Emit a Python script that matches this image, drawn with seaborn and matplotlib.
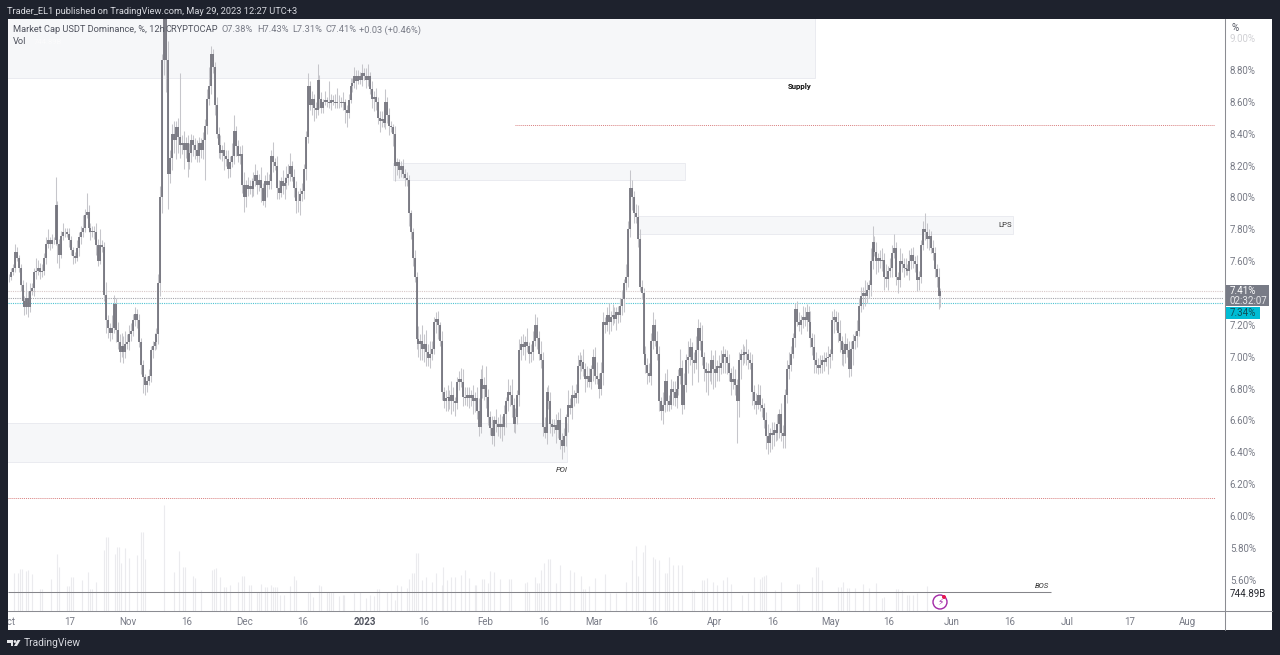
import numpy as np
import pandas as pd
import seaborn as sns
import matplotlib
matplotlib.use("Agg")
import matplotlib.pyplot as plt
from matplotlib.patches import Rectangle, Circle, Polygon

# ---------- data ----------
closes = [
 7.50,7.53,7.56,7.66,7.62,7.56,7.45,7.35,7.31,7.37,
 7.31,7.41,7.43,7.53,7.54,7.56,7.53,7.54,7.62,7.71,
 7.73,7.71,7.73,7.73,7.95,7.71,7.64,7.76,7.78,7.78,
 7.77,7.73,7.67,7.63,7.62,7.68,7.75,7.78,7.81,7.89,
 7.91,7.81,7.78,7.79,7.78,7.70,7.60,7.70,7.69,7.39,
 7.23,7.18,7.15,7.18,7.33,7.17,7.09,7.03,7.07,7.03,
 7.08,7.09,7.14,7.16,7.23,7.27,7.23,7.09,6.95,6.87,
 6.82,6.85,6.88,7.04,7.07,7.09,7.14,7.46,8.00,8.86,
 9.15,8.86,8.15,8.25,8.40,8.36,8.44,8.38,8.33,8.34,
 8.30,8.34,8.22,8.28,8.36,8.33,8.30,8.26,8.34,8.30,
 8.36,8.45,8.62,8.70,8.90,8.82,8.58,8.40,8.33,8.28,
 8.30,8.26,8.24,8.18,8.22,8.26,8.42,8.32,8.26,8.27,
 8.08,8.00,8.08,8.05,8.07,8.05,8.10,8.14,8.08,8.11,
 8.06,7.98,8.10,8.08,8.10,8.26,8.22,8.20,8.06,8.03,
 8.10,8.07,8.09,8.12,8.15,8.20,8.13,8.06,7.98,7.98,
 8.02,8.04,8.18,8.38,8.70,8.58,8.62,8.56,8.55,8.74,
 8.62,8.56,8.60,8.61,8.60,8.59,8.61,8.60,8.59,8.60,
 8.60,8.59,8.60,8.55,8.53,8.61,8.70,8.72,8.76,8.73,
 8.76,8.74,8.78,8.76,8.74,8.76,8.68,8.62,8.63,8.60,
 8.50,8.48,8.49,8.47,8.60,8.52,8.45,8.44,8.40,8.20,
 8.22,8.17,8.20,8.15,8.12,8.11,7.90,7.78,7.62,7.50,
 7.11,7.08,7.10,7.05,7.08,7.03,6.99,7.02,7.05,7.22,
 7.24,7.20,7.10,6.78,6.72,6.74,6.75,6.72,6.76,6.72,
 6.71,6.84,6.86,6.84,6.75,6.74,6.76,6.74,6.76,6.72,
 6.74,6.66,6.56,6.86,6.80,6.82,6.75,6.62,6.55,6.50,
 6.60,6.58,6.56,6.58,6.56,6.64,6.72,6.78,6.76,6.70,
 6.58,6.62,6.76,7.04,7.08,7.06,7.09,7.07,7.02,7.03,
 7.10,7.20,7.12,7.02,6.98,6.56,6.52,6.78,6.72,6.58,
 6.56,6.57,6.54,6.60,6.48,6.44,6.50,6.62,6.70,6.68,
 6.76,6.74,6.77,6.94,6.98,6.97,6.92,6.86,6.88,6.84,
 6.92,7.00,6.88,6.86,6.80,6.90,7.22,7.20,7.26,7.22,
 7.25,7.26,7.24,7.28,7.26,7.32,7.36,7.46,7.50,7.80,
 8.06,8.00,7.90,7.88,7.74,7.44,7.40,7.02,6.95,6.90,
 6.88,7.10,7.20,7.10,7.02,6.72,6.66,6.70,6.85,6.72,
 6.70,6.80,6.78,6.74,6.80,6.88,6.93,6.70,6.82,6.98,
 7.00,7.06,6.98,6.96,7.04,7.18,7.10,7.00,6.92,6.90,
 6.91,6.90,6.98,6.92,6.90,6.94,6.93,6.96,7.02,7.00,
 6.96,6.90,6.84,6.86,6.82,6.72,6.98,7.02,7.01,7.03,
 7.02,6.98,6.96,6.78,6.72,6.70,6.76,6.70,6.68,6.60,
 6.50,6.46,6.52,6.51,6.54,6.52,6.58,6.64,6.52,6.50,
 6.76,6.92,6.95,7.02,7.12,7.30,7.22,7.20,7.23,7.25,
 7.23,7.28,7.22,7.12,7.06,6.98,6.95,6.93,6.95,6.98,
 6.97,6.99,7.00,7.02,7.23,7.25,7.22,7.15,7.10,7.04,
 7.02,7.08,7.04,6.92,7.05,7.10,7.13,7.16,7.32,7.38,
 7.40,7.38,7.42,7.45,7.60,7.72,7.66,7.60,7.62,7.60,
 7.61,7.50,7.49,7.54,7.56,7.65,7.68,7.50,7.48,7.60,
 7.58,7.56,7.55,7.54,7.60,7.64,7.60,7.58,7.48,7.50,
 7.70,7.80,7.78,7.74,7.76,7.68,7.65,7.55,7.50,7.38,
 7.41,
]
wick_up = [  # hundredths of a percent above the body
 2,3,2,5,3,2,2,3,3,10,4,5,3,3,8,5,3,4,3,4,
 7,2,4,2,18,3,3,3,6,3,3,4,3,2,3,5,3,4,8,4,
 12,4,3,3,3,6,4,10,3,3,8,3,3,8,6,4,5,5,8,6,
 8,5,6,5,4,4,3,4,3,3,2,3,4,3,3,6,4,6,7,4,
 12,5,12,5,6,8,4,6,40,5,8,4,5,6,4,3,4,6,4,3,
 5,4,6,12,5,3,3,5,4,6,3,5,4,6,4,8,10,3,4,5,
 6,8,3,5,4,5,6,7,3,4,8,3,4,6,5,4,9,3,6,5,
 3,7,4,8,6,8,3,5,4,6,4,5,3,4,8,3,5,3,4,10,
 3,4,2,6,2,13,4,3,5,9,4,3,6,2,3,4,5,3,6,4,
 4,3,6,3,5,8,3,5,4,6,3,4,5,3,8,3,4,3,2,5,
 3,2,3,4,3,4,3,2,3,5,3,8,4,10,6,9,5,8,5,3,
 4,5,2,6,3,5,7,4,9,5,3,3,5,7,8,6,5,5,3,6,
 4,7,8,6,9,5,12,5,4,8,3,7,4,6,5,6,3,8,4,10,
 4,6,3,7,5,6,4,9,2,5,6,7,5,4,8,5,6,3,4,6,
 3,4,7,5,8,4,5,2,9,4,6,3,6,7,5,3,8,4,6,5,
 3,5,6,9,4,7,6,3,5,8,4,7,5,3,4,5,6,3,8,5,
 11,5,4,6,7,6,4,3,5,4,6,5,8,4,6,5,3,8,5,7,
 4,6,5,7,6,4,12,5,8,4,10,6,3,5,9,6,4,10,3,5,
 5,4,6,3,12,4,7,8,5,3,4,6,3,8,6,4,5,3,6,4,
 8,3,5,6,4,5,7,6,4,3,5,8,3,7,5,4,6,3,7,5,
 4,6,8,5,3,4,5,6,3,7,6,5,4,7,3,8,5,4,6,3,
 5,4,7,3,6,5,4,6,8,3,5,7,4,6,5,4,3,7,5,6,
 4,8,5,3,8,10,4,6,3,5,7,4,8,3,6,5,9,4,3,8,
 5,4,6,3,7,4,5,3,6,4,3,5,10,6,4,3,5,4,3,6,
 2,
]
wick_dn = [  # hundredths of a percent below the body
 3,2,2,3,2,3,4,3,5,4,6,3,2,5,4,3,4,3,3,4,
 3,4,3,2,3,12,8,2,3,3,2,4,3,5,3,2,5,4,3,3,
 2,3,5,3,4,6,3,2,3,4,8,6,5,4,3,8,4,6,3,7,
 4,3,5,4,3,4,5,3,6,10,6,4,3,4,5,3,4,6,8,10,
 9,20,22,6,8,8,12,10,8,6,12,5,9,4,6,7,6,4,4,5,
 6,25,5,4,5,4,6,3,8,4,5,9,4,6,5,3,5,6,4,5,
 5,9,6,4,3,5,4,3,6,4,9,3,4,8,3,5,6,3,7,4,
 3,5,8,4,4,5,3,6,8,7,9,4,5,7,4,3,6,8,5,3,
 6,3,3,2,3,3,4,2,3,3,4,2,4,8,9,3,2,4,3,5,
 2,3,4,2,5,4,3,6,8,5,4,7,4,3,4,5,6,3,8,10,
 6,5,4,3,5,4,8,4,5,3,6,8,10,7,8,9,5,6,4,3,
 7,9,3,5,4,6,8,5,8,6,8,4,5,3,6,4,5,6,5,8,
 7,5,6,4,6,7,7,5,4,5,6,5,6,7,9,5,8,6,7,8,
 5,6,4,7,6,5,8,4,6,5,5,3,7,4,5,6,3,7,5,6,
 6,4,8,5,6,8,4,6,9,4,7,5,3,6,8,6,4,8,5,3,
 4,7,5,3,6,4,8,5,4,8,6,5,3,7,5,4,6,8,4,6,
 5,8,6,4,5,3,4,6,5,7,4,6,5,3,4,6,6,8,5,6,
 4,3,8,5,6,4,5,6,3,4,8,5,16,6,4,20,6,5,7,12,
 14,5,7,12,9,5,8,4,6,10,7,5,8,4,6,26,10,12,6,5,
 7,6,4,8,5,6,3,4,6,5,8,7,6,9,7,5,4,9,5,7,
 7,5,6,4,3,6,3,4,6,5,4,7,3,6,5,8,5,4,3,5,
 6,3,10,7,4,8,5,6,7,9,8,6,4,5,4,10,5,7,3,4,
 8,6,4,5,7,5,3,8,7,4,6,8,5,7,4,6,3,5,8,4,
 5,6,4,3,6,5,4,5,7,6,4,3,5,6,7,3,4,5,6,8,
 7,
]
vol_index = [3,5,6,7,9,10,12,16,17,22,25,26,30,31,32,33,38,41,42,43,45,49,50,51,55,56,57,58,60,62,66,68,69,70,80,
 85,88,90,91,95,96,99,105,106,107,109,111,112,114,118,120,121,124,125,128,129,130,132,133,135,136,137,138,140,142,
 145,147,148,154,155,157,160,161,164,165,166,167,170,172,173,178,181,184,186,188,190,191,195,197,199,200,202,205,206,
 208,209,210,211,213,215,218,220,223,224,226,228,230,233,235,237,240,241,244,245,247,248,250,253,258,259,266,267,268,
 271,272,273,274,276,278,279,282,284,289,291,295,296,297,299,302,307,310,313,318,321,323,324,327,328,332,333,335,338,
 339,340,342,345,347,352,353,357,358,360,363,365,368,370,372,378,381,384,387,388,389,390,395,398,406,407,414,416,417,
 419,427,429,430,432,433,436,440,443,447,450,451,457,458,460,463,464,466,468,473]
vol_billions = [622,622,688,688,660,677,610,358,358,528,935,732,413,413,567,567,512,649,358,358,484,1007,1216,1216,935,1051,1051,787,1034,869,924,1309,1309,853,1745,
 649,990,732,732,578,539,347,677,688,704,567,402,402,429,484,578,578,429,429,319,319,440,402,402,429,402,402,402,264,264,
 413,578,512,319,319,237,429,413,319,319,319,319,248,264,264,292,308,209,264,248,363,363,319,319,182,429,418,374,523,
 633,633,963,963,512,567,484,633,429,732,512,567,567,594,677,539,429,429,523,523,468,666,649,523,523,523,468,484,319,
 567,457,457,677,787,853,853,457,759,677,649,578,358,358,413,539,605,303,292,484,842,1073,578,979,1089,897,853,842,622,
 622,897,759,759,759,347,347,512,512,539,484,429,512,567,446,264,292,567,523,556,578,594,347,484,446,446,556,732,732,
 512,402,402,484,374,374,385,446,374,457,209,237,358,358,347,264,264,264,292,413]

price_ticks = [5.6,5.8,6.0,6.2,6.4,6.6,6.8,7.0,7.2,7.6,7.8,8.0,8.2,8.4,8.6,8.8,9.0]
tick_dates = ["2022-10-01","2022-10-17","2022-11-01","2022-11-16","2022-12-01","2022-12-16","2023-01-01",
              "2023-01-16","2023-02-01","2023-02-16","2023-03-01","2023-03-16","2023-04-01","2023-04-16",
              "2023-05-01","2023-05-16","2023-06-01","2023-06-16","2023-07-01","2023-07-17","2023-08-01"]
tick_labels = ["Oct","17","Nov","16","Dec","16","2023","16","Feb","16","Mar","16","Apr","16","May","16",
               "Jun","16","Jul","17","Aug"]
# zones: left day, right day, low, high (days after 1 Oct 2022)
zone_left  = [-5.0, 99.3, 162.4, -5.0]
zone_right = [208.0, 174.5, 259.0, 144.1]
zone_low   = [8.75, 8.11, 7.77, 6.34]
zone_high  = [9.30, 8.216, 7.883, 6.584]
level_prices = [7.41, 7.37, 7.34]
resistance, support, bos = 8.455, 6.113, 5.523

# ---------- styling ----------
sns.set_theme(style="white")
plt.rcParams["font.family"] = ["Roboto", "DejaVu Sans"]
DARK, GREY, BODY, WICK, VOLC = "#1e222d", "#787b86", "#74747d", "#c6c6cb", "#ebebee"
W, H = 1280, 655
fig = plt.figure(figsize=(12.8, 6.55), dpi=100, facecolor=DARK)

def rect(x0, y0, x1, y1):
    return [x0 / W, 1 - y1 / H, (x1 - x0) / W, (y1 - y0) / H]

bg = fig.add_axes(rect(7, 19, 1272, 630), zorder=0, facecolor="white")
bg.set_xticks([]); bg.set_yticks([])
for s in bg.spines.values():
    s.set_visible(False)

XLIM = (0.09, 313.3)
YLIM = (5.404, 9.120)
ax_vol = fig.add_axes(rect(8, 19, 1224, 611), zorder=1, facecolor="none")
ax = fig.add_axes(rect(8, 19, 1224, 611), zorder=2, facecolor="none")

# ---------- frames ----------
n = len(closes)
assert n == len(wick_up) == len(wick_dn), (n, len(wick_up), len(wick_dn))
t = 0.25 + 0.5 * np.arange(n)
c = np.array(closes)
o = np.r_[closes[0], c[:-1]]
hi = np.maximum(o, c) + np.array(wick_up) / 100
lo = np.minimum(o, c) - np.array(wick_dn) / 100
ids = np.arange(n)
wicks = pd.DataFrame({"t": np.r_[t, t], "p": np.r_[lo, hi], "id": np.r_[ids, ids]})
bodies = pd.DataFrame({"t": np.r_[t, t], "p": np.r_[o, c], "id": np.r_[ids, ids]})
vt = 0.25 + 0.5 * np.array(vol_index)
vols = pd.DataFrame({"t": np.r_[vt, vt], "v": np.r_[np.zeros(len(vt)), vol_billions],
                     "id": np.r_[vol_index, vol_index]})

sns.lineplot(data=vols, x="t", y="v", units="id", estimator=None, sort=False, ax=ax_vol, color=VOLC,
             linewidth=0.8, solid_capstyle="butt", legend=False)
ax_vol.set(xlim=XLIM, ylim=(0, 9768), xlabel="", ylabel="", xticks=[], yticks=[])
sns.despine(ax=ax_vol, left=True, bottom=True)

# zones under the candles
for l, r, a, b in zip(zone_left, zone_right, zone_low, zone_high):
    ax.add_patch(Rectangle((l, a), r - l, b - a, facecolor="#f6f7f9", edgecolor="#e8e9ee", lw=0.6, zorder=1))
# levels
for p, col in zip(level_prices, ["#d8c8c8", "#a4a6ac", "#4fc3d2"]):
    ax.hlines(p, *XLIM, colors=col, lw=0.8, linestyles=(0, (1, 1)), zorder=1.5)
ax.hlines(resistance, 130.7, 311, colors="#d98080", lw=0.7, linestyles=(0, (1, 1)), zorder=1.5)
ax.hlines(support, XLIM[0], 311, colors="#d98080", lw=0.7, linestyles=(0, (1, 1)), zorder=1.5)
ax.hlines(bos, XLIM[0], 268.8, colors="#85858a", lw=0.75, zorder=1.5)

sns.lineplot(data=wicks, x="t", y="p", units="id", estimator=None, sort=False, ax=ax, color=WICK,
             linewidth=0.75, solid_capstyle="butt", legend=False, zorder=2)
sns.lineplot(data=bodies, x="t", y="p", units="id", estimator=None, sort=False, ax=ax, color=BODY,
             linewidth=1.3, solid_capstyle="butt", legend=False, zorder=3)

ax.set(xlim=XLIM, ylim=YLIM, xlabel="", ylabel="")
for s in ax.spines.values():
    s.set_visible(False)
start = pd.Timestamp("2022-10-01")
ax.set_xticks([(pd.Timestamp(d) - start).days for d in tick_dates])
ax.set_xticklabels(tick_labels)
ax.yaxis.tick_right()
ax.set_yticks(price_ticks)
ax.set_yticklabels([f"{v:.2f}%" for v in price_ticks])
ax.tick_params(axis="x", length=0, pad=4.5, labelsize=7, labelcolor=GREY)
ax.tick_params(axis="y", length=0, pad=4.2, labelsize=7, labelcolor=GREY)
for lb in ax.get_xticklabels():
    if lb.get_text() == "2023":
        lb.set_fontweight("bold"); lb.set_color("#50535e")
ax.get_yticklabels()[-1].set_color("#d0d0d4")

# zone captions
ax.text(204.1, 8.695, "Supply", fontsize=5.6, fontweight="bold", color="#111", ha="center", va="center", zorder=5)
ax.text(256.8, 7.825, "LPS", fontsize=5.6, color="#333", ha="center", va="center", zorder=5)
ax.text(142.6, 6.29, "POI", fontsize=5.6, style="italic", color="#333", ha="center", va="center", zorder=5)
ax.text(266.5, 5.56, "BOS", fontsize=5.6, style="italic", color="#333", ha="center", va="center", zorder=5)

# ---------- chrome in pixel coordinates ----------
ov = fig.add_axes([0, 0, 1, 1], zorder=3, facecolor="none")
ov.set_xlim(0, W); ov.set_ylim(H, 0); ov.set_axis_off()
ov.add_patch(Rectangle((0, 0), 7.5, H, color=DARK, lw=0))
ov.plot([8, 1272], [611, 611], color="#8b8c92", lw=0.75)
ov.plot([1224.5, 1224.5], [19, 630], color="#8b8c92", lw=0.75)

def label(x, y, s, size=6.7, color="#50535e", **kw):
    ov.text(x, y, s, fontsize=size, color=color, va="center", **kw)

label(7, 11, "Trader_EL1 published on TradingView.com, May 29, 2023 12:27 UTC+3", color="#d6d8de")
label(13, 30, "Market Cap USDT Dominance, %, 12h", color="#50535e")
label(166, 30, "CRYPTOCAP", color="#50535e")
for xp, s in zip([221, 257, 292, 325, 359], ["O7.38%", "H7.43%", "L7.31%", "C7.41%", "+0.03 (+0.46%)"]):
    label(xp, 30, s, color=GREY)
label(13, 41.5, "Vol")
label(34, 42, "744.89B", size=5.5, color="#fbfbfc")
label(1231, 28, "%", size=7)
ov.add_patch(Rectangle((1225, 285), 44, 21, color=GREY, lw=0))
label(1230, 291, "7.41%", size=7, color="white")
label(1230, 301, "02:32:07", size=7, color="#e6e7ea")
ov.add_patch(Rectangle((1225, 307), 35, 12, color="#00bcd4", lw=0))
label(1230, 313, "7.34%", size=7, color="#0f4f59")
ov.add_patch(Rectangle((1225, 588), 43, 12, color="white", lw=0))
label(1230, 594, "744.89B", size=7, color="#26282f")
# bolt badge
ov.add_patch(Circle((940, 602), 7, facecolor="white", edgecolor="#a228a6", lw=1.0))
ov.text(940, 602.5, "\u26a1", family="DejaVu Sans", fontsize=6.5, color="#a228a6", ha="center", va="center")
ov.add_patch(Circle((944, 597), 2, color="#e8174f", lw=0))
# footer logo and name
ov.add_patch(Polygon([(7, 640), (13, 640), (13, 646), (10.5, 646), (10.5, 642.5), (7, 642.5)], color="#e6e7ea", lw=0))
ov.add_patch(Circle((15, 641.5), 1.4, color="#e6e7ea", lw=0))
ov.add_patch(Polygon([(17.5, 640), (20.5, 640), (17, 646), (14, 646)], color="#e6e7ea", lw=0))
label(23.5, 643.5, "TradingView", size=7.4, color="#d6d8de")

fig.savefig("out.png", dpi=100, facecolor=DARK)
